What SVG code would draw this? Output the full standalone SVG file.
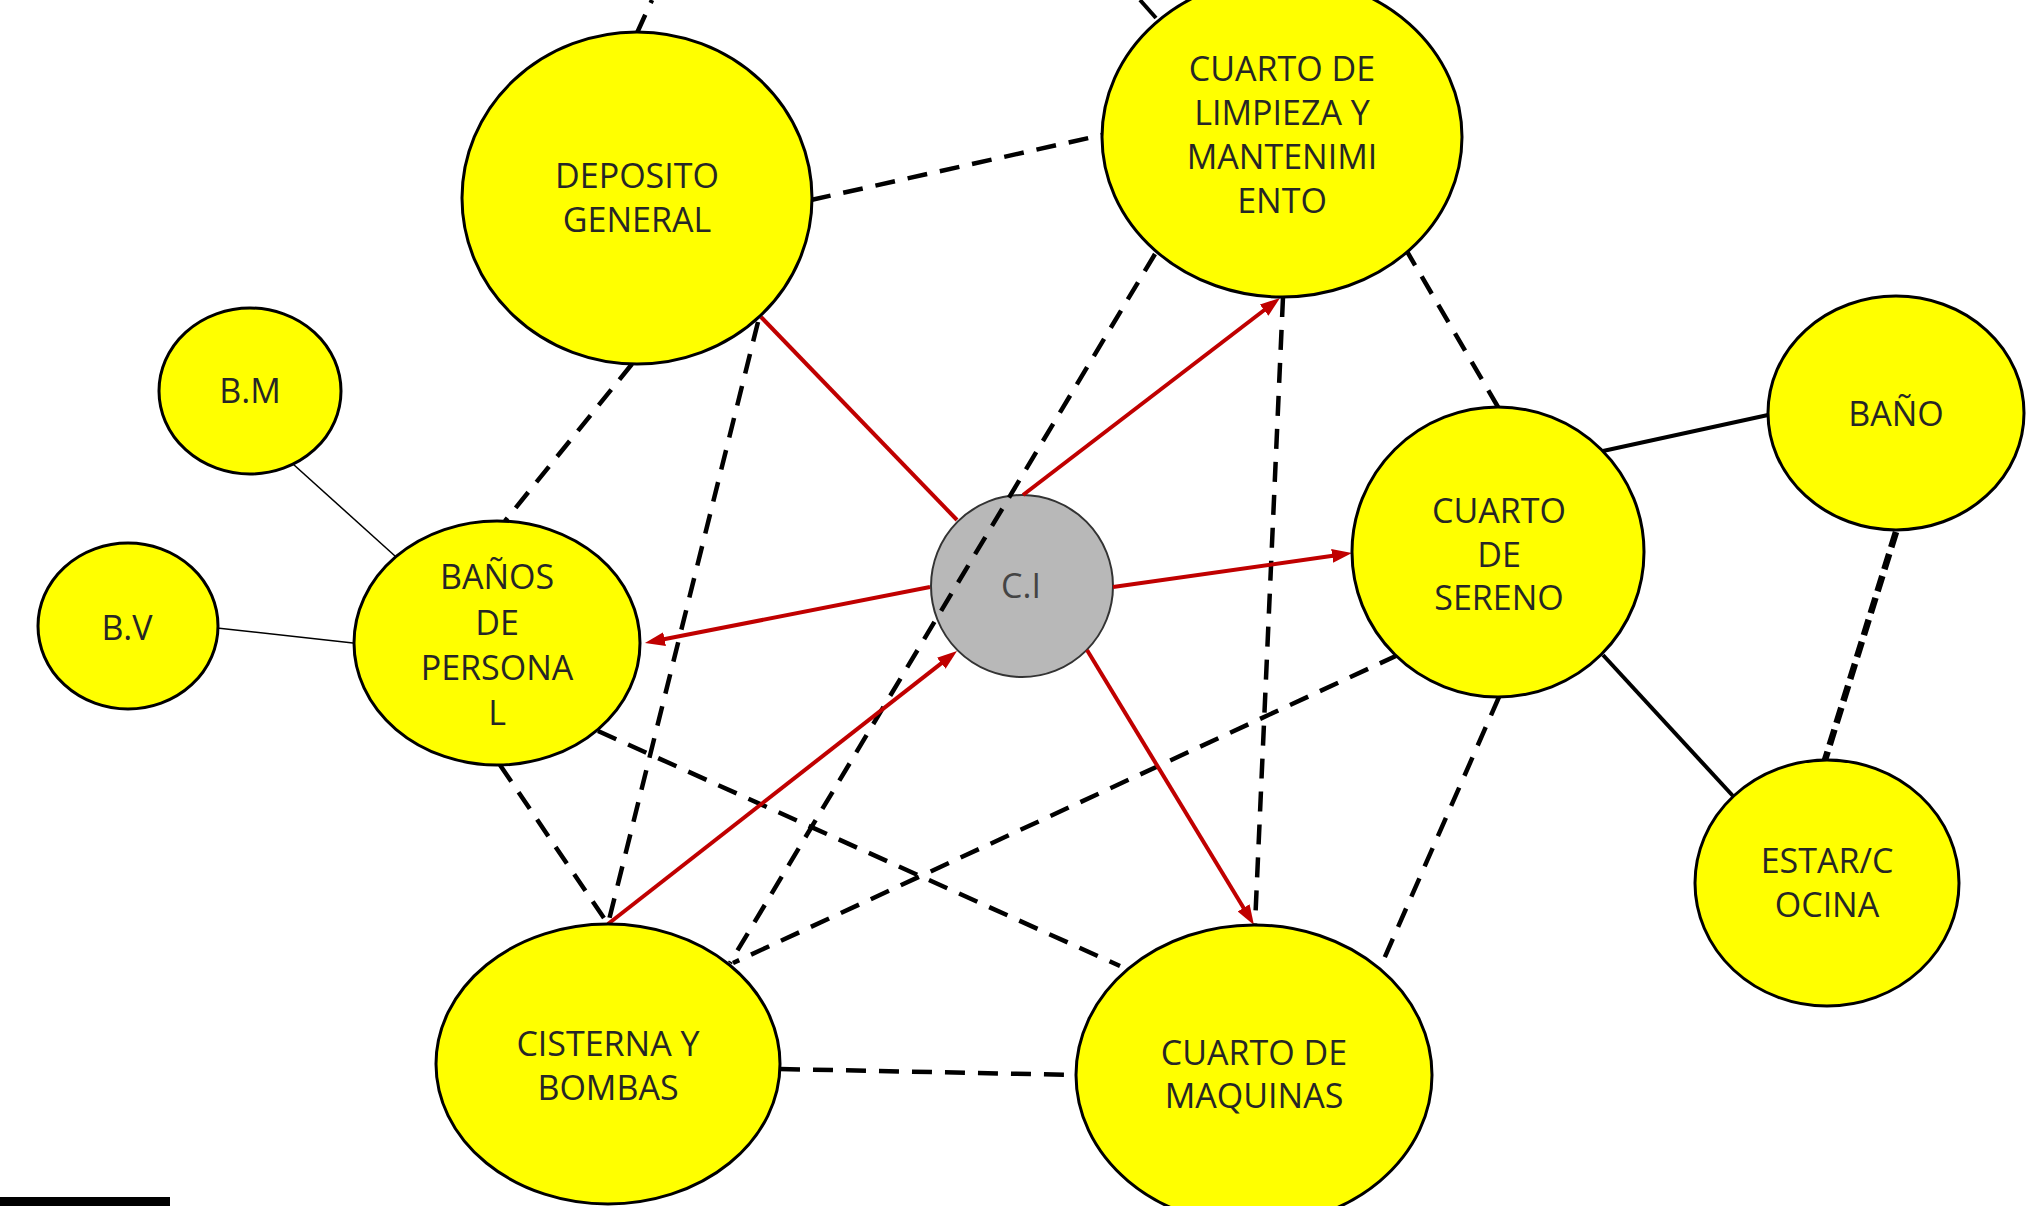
<svg xmlns="http://www.w3.org/2000/svg" width="2038" height="1206" viewBox="0 0 2038 1206">
<style>
.node{fill:#ffff00;stroke:#000;stroke-width:3}
.ci{fill:#b8b8b8;stroke:#333;stroke-width:2}
.lbl{font-family:"Open Sans","Noto Sans","Liberation Sans",sans-serif;font-size:34px;fill:#262626;text-anchor:middle}
.cil{fill:#444}
.dash{stroke:#000;stroke-width:4.5;stroke-dasharray:20 13;fill:none}
.dash2{stroke:#000;stroke-width:6.5;stroke-dasharray:16 7;fill:none}
.solid{stroke:#000;stroke-width:4;fill:none}
.thin{stroke:#000;stroke-width:1.5;fill:none}
.red{stroke:#c00000;stroke-width:4;fill:none}
.arr{marker-end:url(#ah)}
</style>
<defs>
<marker id="ah" viewBox="0 0 20 14" refX="6" refY="7" markerWidth="20" markerHeight="14" markerUnits="userSpaceOnUse" orient="auto">
<path d="M0,0 L20,7 L0,14 z" fill="#c00000"/>
</marker>
</defs>
<rect width="2038" height="1206" fill="#fff"/>

<g id="node-ci">
<circle class="ci" cx="1022" cy="586" r="91"/>
<text class="lbl cil" x="1021" y="598">C.I</text>
</g>

<g id="connectors">
<path class="dash" d="M637,33 L652,0"/>
<path class="solid" d="M1156,18 L1140,0"/>
<path class="dash" d="M811,200 L1102,135"/>
<path class="dash" d="M632,364 L505,521"/>
<path class="dash" d="M758,322 L608,924"/>
<path class="dash" d="M1155,254 L730,963"/>
<path class="dash" d="M1283,297 L1255,925"/>
<path class="dash" d="M1405,248 L1498,407"/>
<path class="dash" d="M598,731 L1120,966"/>
<path class="dash" d="M500,765 L608,924"/>
<path class="dash" d="M1398,655 L733,963"/>
<path class="dash" d="M1499,697 L1380,968"/>
<path class="dash" d="M780,1069 L1077,1075"/>
<path class="dash2" d="M1896,532 L1825,760"/>
<path class="thin" d="M283,455 L395,556"/>
<path class="thin" d="M217,628 L353,643"/>
<path class="solid" d="M1603,451 L1768,415"/>
<path class="solid" d="M1603,655 L1733,796"/>
<path class="red" d="M761,317 L957,520"/>
<path class="red arr" d="M1023,495 L1268.9,306.5"/>
<path class="red arr" d="M1113,587 L1338.1,555"/>
<path class="red arr" d="M930,587 L658.7,640.3"/>
<path class="red arr" d="M1087,650 L1246.7,913"/>
<path class="red arr" d="M608,924 L946,659.6"/>
</g>

<g id="node-deposito">
<ellipse class="node" cx="637" cy="198" rx="175" ry="166"/>
<text class="lbl" x="637" y="188">DEPOSITO</text>
<text class="lbl" x="637" y="232">GENERAL</text>
</g>

<g id="node-limpieza">
<ellipse class="node" cx="1282" cy="137" rx="180" ry="160"/>
<text class="lbl" x="1282" y="81">CUARTO DE</text>
<text class="lbl" x="1282" y="125">LIMPIEZA Y</text>
<text class="lbl" x="1282" y="169">MANTENIMI</text>
<text class="lbl" x="1282" y="213">ENTO</text>
</g>

<g id="node-bm">
<ellipse class="node" cx="250" cy="391" rx="91" ry="83"/>
<text class="lbl" x="250" y="403">B.M</text>
</g>

<g id="node-bv">
<ellipse class="node" cx="128" cy="626" rx="90" ry="83"/>
<text class="lbl" x="127" y="640">B.V</text>
</g>

<g id="node-banos-personal">
<ellipse class="node" cx="497" cy="643" rx="143" ry="122"/>
<text class="lbl" x="497" y="589">BAÑOS</text>
<text class="lbl" x="497" y="635">DE</text>
<text class="lbl" x="497" y="680">PERSONA</text>
<text class="lbl" x="497" y="725">L</text>
</g>

<g id="node-sereno">
<ellipse class="node" cx="1498" cy="552" rx="146" ry="145"/>
<text class="lbl" x="1499" y="523">CUARTO</text>
<text class="lbl" x="1499" y="567">DE</text>
<text class="lbl" x="1499" y="610">SERENO</text>
</g>

<g id="node-bano">
<ellipse class="node" cx="1896" cy="413" rx="128" ry="117"/>
<text class="lbl" x="1896" y="426">BAÑO</text>
</g>

<g id="node-estar">
<ellipse class="node" cx="1827" cy="883" rx="132" ry="123"/>
<text class="lbl" x="1827" y="873">ESTAR/C</text>
<text class="lbl" x="1827" y="917">OCINA</text>
</g>

<g id="node-cisterna">
<ellipse class="node" cx="608" cy="1064" rx="172" ry="140"/>
<text class="lbl" x="608" y="1056">CISTERNA Y</text>
<text class="lbl" x="608" y="1100">BOMBAS</text>
</g>

<g id="node-maquinas">
<ellipse class="node" cx="1254" cy="1075" rx="178" ry="150"/>
<text class="lbl" x="1254" y="1065">CUARTO DE</text>
<text class="lbl" x="1254" y="1108">MAQUINAS</text>
</g>

<rect x="0" y="1197" width="170" height="9" fill="#000"/>
</svg>
